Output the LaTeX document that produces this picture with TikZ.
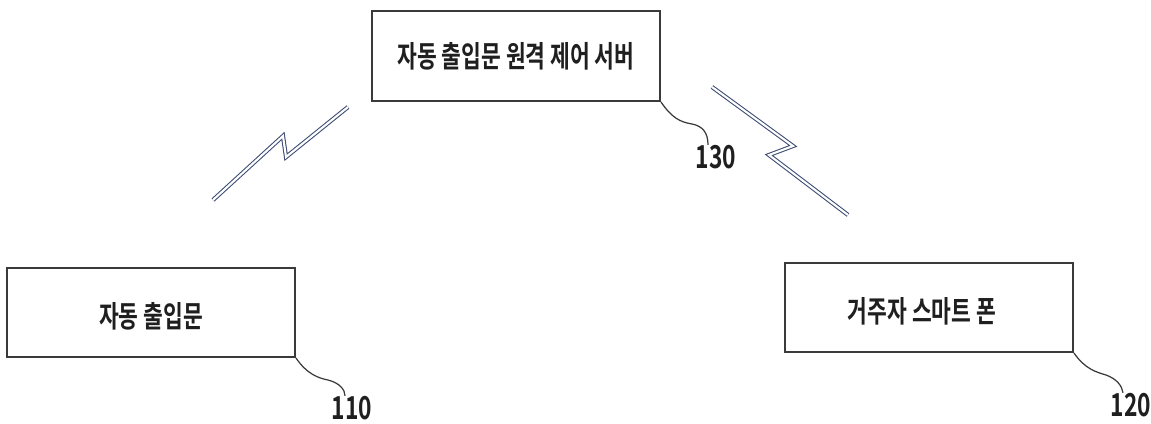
\documentclass[tikz,border=0pt]{standalone}
\usepackage{fontspec}
\newfontfamily\kr{Noto Sans CJK KR}[BoldFont={* Bold}]
\definecolor{bolt}{HTML}{3E4C74}
\definecolor{edge}{HTML}{3A3A3A}
\tikzset{
  boxnode/.style={draw=edge, line width=1.1pt, minimum width=5.76cm, inner sep=0pt},
  lbl/.style={font=\kr\bfseries\fontsize{17}{20}\selectfont, text=black!88},
  refnum/.style={font=\kr\bfseries\fontsize{18}{20}\selectfont, text=black!88, inner sep=0pt},
  leader/.style={draw=edge, line width=0.7pt},
  boltline/.style={draw=bolt, line width=0.6pt, double=white, double distance=1.2pt, line join=miter}
}
\newcommand{\cond}[1]{\scalebox{0.72}[1]{#1}}
\begin{document}
\begin{tikzpicture}[x=0.02cm, y=-0.02cm]
\useasboundingbox (0,0) rectangle (1151,423);
% boxes
\node[boxnode, minimum height=1.8cm] (srv) at (516,56) {};
\node[boxnode, minimum height=1.78cm] (door) at (151,312.5) {};
\node[boxnode, minimum height=1.78cm] (phone) at (929,307.5) {};
% texts
\node[lbl] (srvt) at (srv.center) {\cond{자동 출입문 원격 제어 서버}};
\node[lbl] (doort) at (151,316) {\cond{자동 출입문}};
\node[lbl] (phonet) at (922,311) {\cond{거주자 스마트 폰}};
% reference numbers
\node[refnum] (n130) at (716,157) {\cond{130}};
\node[refnum] (n110) at (352,408) {\cond{110}};
\node[refnum] (n120) at (1131,405) {\cond{120}};
% leaders
\draw[leader] (srv.south east) .. controls (672,118) and (680,122) .. (692,124) .. controls (702,126) and (708,132) .. (n130.north -| 708,0);
\draw[leader] (door.south east) .. controls (307,374) and (318,378) .. (328,380) .. controls (340,383) and (345,390) .. (n110.north -| 345,0);
\draw[leader] (phone.south east) .. controls (1085,369) and (1096,372) .. (1106,375) .. controls (1117,379) and (1122,386) .. (n120.north -| 1123,0);
% lightning bolts
\coordinate (la) at (213,200);
\coordinate (lb) at (283,136);
\coordinate (lc) at (286,157);
\coordinate (ld) at (348,107);
\draw[boltline] (la) -- (lb) -- (lc) -- (ld);
\coordinate (ra) at (712,87);
\coordinate (rb) at (793,146);
\coordinate (rc) at (769,155);
\coordinate (rd) at (848,215);
\draw[boltline] (ra) -- (rb) -- (rc) -- (rd);
\end{tikzpicture}
\end{document}
